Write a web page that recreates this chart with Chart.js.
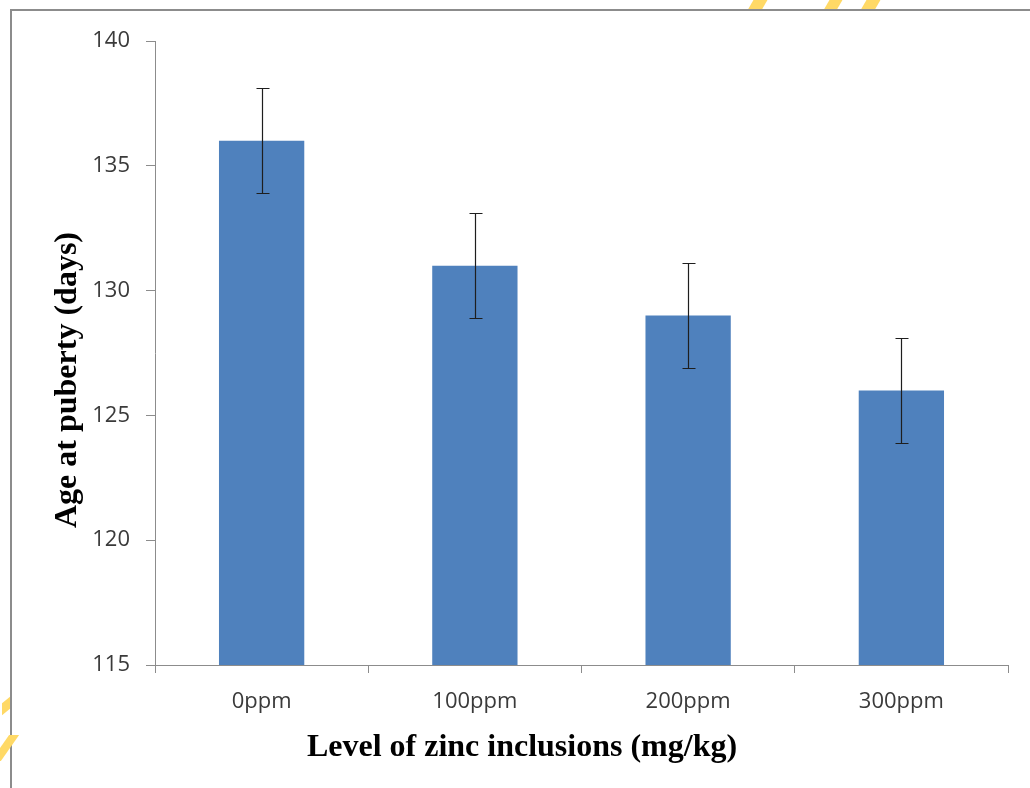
<!DOCTYPE html>
<html>
<head>
<meta charset="utf-8">
<script src="https://cdn.jsdelivr.net/npm/chart.js@4.4.1/dist/chart.umd.min.js"></script>
<style>
  html,body{margin:0;padding:0;background:#fff;}
  #wrap{position:relative;width:1030px;height:788px;overflow:hidden;background:#fff;}
  canvas{position:absolute;left:0;top:0;}
  .frame{position:absolute;left:10px;top:9px;width:1040px;height:800px;border-top:2px solid #8c8c8c;border-left:2px solid #8c8c8c;pointer-events:none;}
  .mark{position:absolute;background:#ffd966;pointer-events:none;}
</style>
</head>
<body>
<div id="wrap">
  <canvas id="c" width="1030" height="788"></canvas>
  <div class="frame"></div>
  <div class="mark" style="left:752px;top:-4px;width:14px;height:13px;transform:skewX(-30deg);"></div>
  <div class="mark" style="left:828px;top:-4px;width:13px;height:13px;transform:skewX(-30deg);"></div>
  <div class="mark" style="left:865px;top:-4px;width:14px;height:13px;transform:skewX(-30deg);"></div>
  <div class="mark" style="left:2px;top:700px;width:8px;height:12px;transform:skewY(-40deg);"></div>
  <div class="mark" style="left:0px;top:735px;width:10px;height:26px;transform:skewX(-35deg);"></div>
</div>
<script>
const categories = ['0ppm', '100ppm', '200ppm', '300ppm'];
const ageAtPuberty = [136.0, 131.0, 129.0, 126.0];
const errorAmount = [2.1, 2.1, 2.1, 2.1];
const yTicks = [115, 120, 125, 130, 135, 140];
const xTitle = 'Level of zinc inclusions (mg/kg)';
const yTitle = 'Age at puberty (days)';

const errorBars = {
  id: 'errorBars',
  afterDatasetsDraw(chart) {
    const meta = chart.getDatasetMeta(0);
    const y = chart.scales.y;
    const ctx = chart.ctx;
    ctx.save();
    ctx.strokeStyle = '#1e1e1e';
    ctx.lineWidth = 1.2;
    meta.data.forEach((bar, i) => {
      const x = Math.round(bar.x) + 0.5;
      const top = Math.round(y.getPixelForValue(ageAtPuberty[i] + errorAmount[i])) + 0.5;
      const bot = Math.round(y.getPixelForValue(ageAtPuberty[i] - errorAmount[i])) + 0.5;
      ctx.beginPath();
      ctx.moveTo(x, top); ctx.lineTo(x, bot);
      ctx.moveTo(x - 6, top); ctx.lineTo(x + 7, top);
      ctx.moveTo(x - 6, bot); ctx.lineTo(x + 7, bot);
      ctx.stroke();
    });
    ctx.restore();
  }
};

const axisTitles = {
  id: 'axisTitles',
  afterDraw(chart) {
    const ctx = chart.ctx;
    ctx.save();
    ctx.fillStyle = '#000';
    ctx.font = 'bold 32px "Liberation Serif", "Times New Roman", serif';
    ctx.textAlign = 'center';
    ctx.textBaseline = 'middle';
    ctx.fillText(xTitle, 522, 748);
    ctx.translate(68, 380);
    ctx.rotate(-Math.PI / 2);
    ctx.fillText(yTitle, 0, 0);
    ctx.restore();
  }
};

new Chart(document.getElementById('c'), {
  type: 'bar',
  data: {
    labels: categories,
    datasets: [{
      data: ageAtPuberty,
      backgroundColor: '#4f81bd',
      borderWidth: 0,
      barPercentage: 0.4,
      categoryPercentage: 1.0
    }]
  },
  options: {
    responsive: false,
    animation: false,
    devicePixelRatio: 1,
    layout: { padding: { top: 41, right: 22, left: 0, bottom: 0 } },
    plugins: { legend: { display: false }, tooltip: { enabled: false }, title: { display: false } },
    scales: {
      x: {
        afterFit(s) { s.height = 123; },
        grid: { drawOnChartArea: false, tickLength: 8, color: '#8c8c8c', offset: true },
        border: { color: '#8c8c8c', width: 1 },
        ticks: { color: '#3a3a3a', padding: 16, font: { family: '"Open Sans", sans-serif', size: 22 }, maxRotation: 0 }
      },
      y: {
        min: 115, max: 140,
        afterFit(s) { s.width = 155; },
        afterBuildTicks(s) { s.ticks = yTicks.map(v => ({ value: v })); },
        grid: { drawOnChartArea: false, tickLength: 9, color: '#8c8c8c' },
        border: { color: '#8c8c8c', width: 1 },
        ticks: { color: '#3a3a3a', padding: 16, font: { family: '"Open Sans", sans-serif', size: 22 } }
      }
    }
  },
  plugins: [errorBars, axisTitles]
});
</script>
</body>
</html>
